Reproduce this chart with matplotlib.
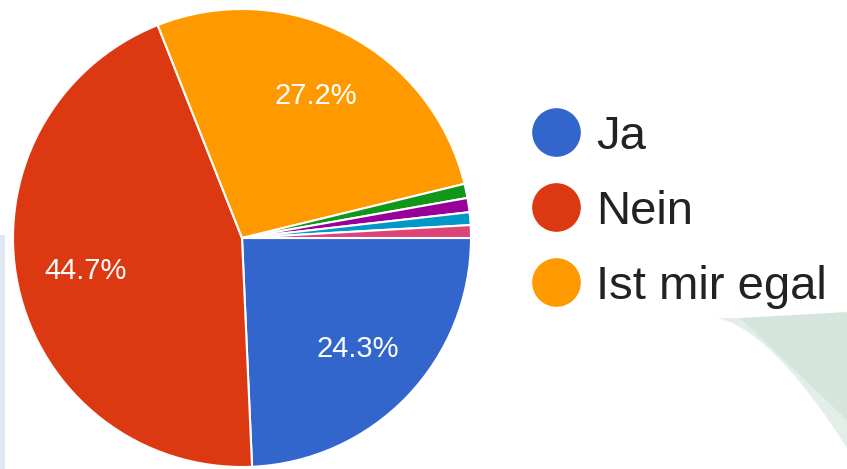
import matplotlib
matplotlib.use("Agg")
import matplotlib.pyplot as plt
from matplotlib.lines import Line2D
from matplotlib.patches import Polygon
import numpy as np

labels = ["Ja", "Nein", "Ist mir egal", "Sonstiges 1", "Sonstiges 2", "Sonstiges 3", "Sonstiges 4"]
values = [24.3, 44.7, 27.2, 1.0, 1.0, 0.9, 0.9]
colors = ["#3366cc", "#dc3912", "#ff9900", "#109618", "#990099", "#0099c6", "#dd4477"]
legend_count = 3

plt.rcParams['font.family'] = ['Liberation Sans', 'DejaVu Sans']

W, H = 847, 469
fig = plt.figure(figsize=(W / 100, H / 100), dpi=100)
fig.patch.set_facecolor("white")

# faint decorative background shapes
bg = fig.add_axes([0, 0, 1, 1], zorder=-5)
bg.set_xlim(0, W); bg.set_ylim(H, 0); bg.axis("off")
t = np.linspace(0, 1, 40)
arc_x = 715 + (847 - 715) * t
arc_y = 318 + 130 * t ** 1.6
bg.add_patch(Polygon(np.column_stack([np.r_[arc_x, 847, 847], np.r_[arc_y, 310, 318]]),
                     closed=True, facecolor="#e4eee8", edgecolor="none"))
bg.add_patch(Polygon([[740, 318], [847, 312], [847, 420]], closed=True,
                     facecolor="#d6e5dc", edgecolor="none"))
bg.add_patch(Polygon([[0, 235], [5, 235], [5, 469], [0, 469]], closed=True,
                     facecolor="#dfe7f2", edgecolor="none"))

cx, cy, r = 242, 238, 229
ax = fig.add_axes([(cx - r) / W, (H - cy - r) / H, 2 * r / W, 2 * r / H])
wedges, texts, autotexts = ax.pie(
    values, colors=colors, startangle=0, counterclock=False, radius=1,
    autopct=lambda p: f"{p:.1f}%" if p > 5 else "", pctdistance=0.7,
    wedgeprops=dict(edgecolor="white", linewidth=1.5),
    textprops=dict(color="white", fontsize=21),
)
ax.set_xlim(-1.0, 1.0); ax.set_ylim(-1.0, 1.0)
ax.set_aspect("equal")

handles = [Line2D([], [], marker="o", linestyle="none", markersize=34,
                  markerfacecolor=c, markeredgecolor=c) for c in colors[:legend_count]]
leg = fig.legend(handles, labels[:legend_count], loc="upper left",
                 bbox_to_anchor=(504 / W, 1 - 91 / H), frameon=False,
                 fontsize=34, handletextpad=0.25, labelspacing=0.66,
                 handlelength=1.2, borderpad=0)
for txt in leg.get_texts():
    txt.set_color("#222222")

fig.savefig("out.png", dpi=100)
